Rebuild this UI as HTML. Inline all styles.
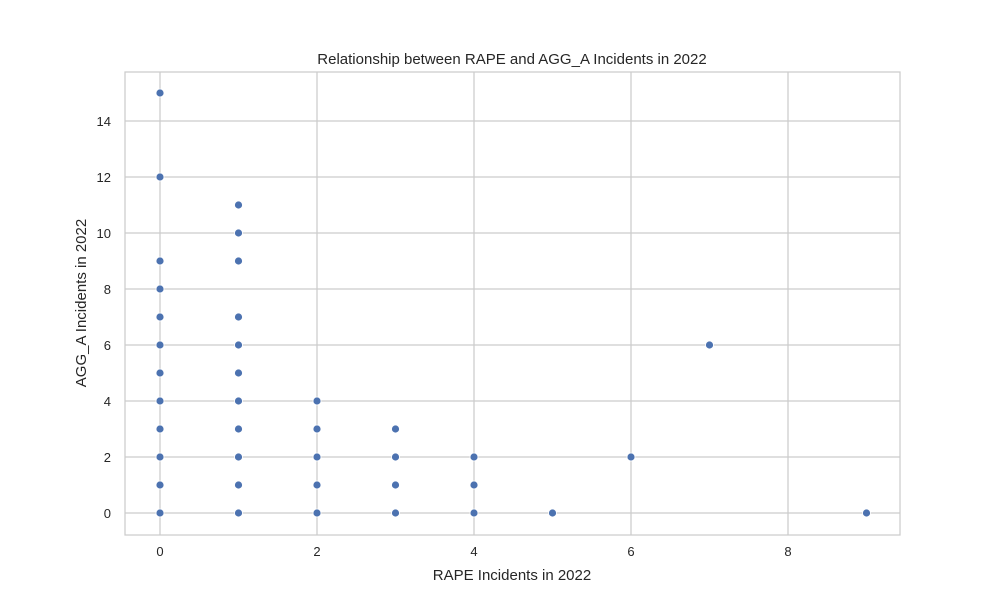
<!DOCTYPE html>
<html><head><meta charset="utf-8">
<style>body{margin:0;background:#fff;font-family:"Liberation Sans","DejaVu Sans",sans-serif;}</style>
</head><body>
<svg id="chart" width="1000" height="600" viewBox="0 0 1000 600">
<rect x="0" y="0" width="1000" height="600" fill="#fff"/>
<g id="grid"></g>
<rect x="125" y="72" width="775" height="463" fill="none" stroke="#cccccc" stroke-width="1.25"/>
<g id="ticks"></g>
<g id="points"></g>
<text x="512" y="64" text-anchor="middle" font-size="15" fill="#262626">Relationship between RAPE and AGG_A Incidents in 2022</text>
<text x="512" y="580" text-anchor="middle" font-size="15" fill="#262626">RAPE Incidents in 2022</text>
<text x="86" y="303" text-anchor="middle" font-size="15" fill="#262626" transform="rotate(-90 86 303)">AGG_A Incidents in 2022</text>
</svg>
<script>
const xTicks=[0,2,4,6,8];
const yTicks=[0,2,4,6,8,10,12,14];
const rapeValues=[0,0,0,0,0,0,0,0,0,0,0,0,1,1,1,1,1,1,1,1,1,1,1,2,2,2,2,2,3,3,3,3,4,4,4,5,6,7,9];
const aggValues=[0,1,2,3,4,5,6,7,8,9,12,15,0,1,2,3,4,5,6,7,9,10,11,0,1,2,3,4,0,1,2,3,0,1,2,0,2,6,0];
const NS="http://www.w3.org/2000/svg";
function xs(v){return 160+v*78.5;}
function ys(v){return 513-v*28;}
const grid=document.getElementById('grid'),ticks=document.getElementById('ticks'),pts=document.getElementById('points');
function mk(tag,attrs,parent){const e=document.createElementNS(NS,tag);for(const k in attrs)e.setAttribute(k,attrs[k]);parent.appendChild(e);return e;}
xTicks.forEach(t=>{
 const l=mk('line',{x1:xs(t),x2:xs(t),y1:72,y2:535,stroke:'#cccccc','stroke-width':1.25},grid);
 
 
 const tx=mk('text',{x:xs(t),y:556,'text-anchor':'middle','font-size':13,fill:'#262626'},ticks);
 tx.textContent=t;
 
 
});
yTicks.forEach(t=>{
 const l=mk('line',{x1:125,x2:900,y1:ys(t),y2:ys(t),stroke:'#cccccc','stroke-width':1.25},grid);
 
 
 const tx=mk('text',{x:111,y:ys(t)+5,'text-anchor':'end','font-size':13,fill:'#262626'},ticks);
 tx.textContent=t;
 
 
});
rapeValues.forEach((r,i)=>{
 const c=mk('circle',{cx:xs(r),cy:ys(aggValues[i]),r:4,fill:'#4c72b0',stroke:'#fff','stroke-width':0.8},pts);
 
 
});
</script>
</body></html>
